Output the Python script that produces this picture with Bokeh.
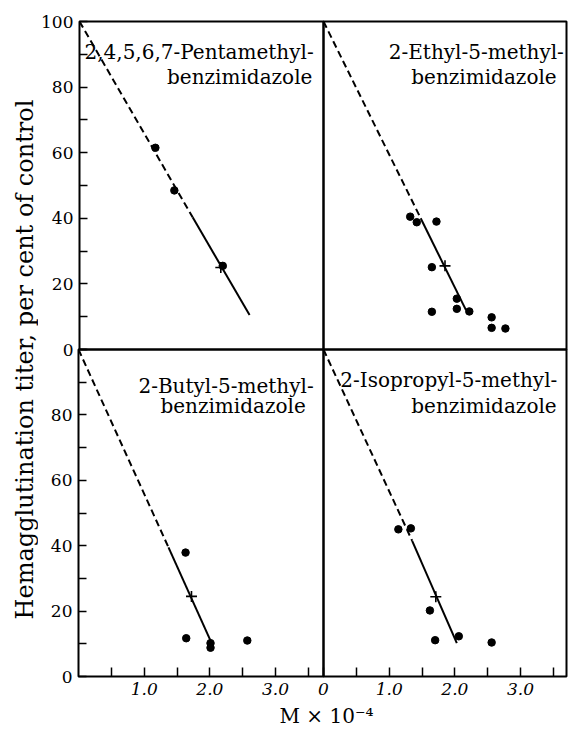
import math
from bokeh.plotting import figure
from bokeh.layouts import row, column
from bokeh.models import Range1d, FixedTicker
from bokeh.core.properties import value
from bokeh.embed import file_html
from bokeh.resources import INLINE

FONT = "DejaVu Serif"

# ---------------- data ----------------
# 2,4,5,6,7-Pentamethylbenzimidazole
pent_x = [1.16, 1.45, 2.19]
pent_y = [61.5, 48.5, 25.5]
pent_cross_x = [2.16]
pent_cross_y = [25.0]
pent_line_x = [0.0, 1.73, 2.60]
pent_line_y = [100.0, 40.3, 10.5]

# 2-Ethyl-5-methylbenzimidazole
ethyl_x = [1.32, 1.42, 1.72, 1.65, 1.65, 2.03, 2.03, 2.22, 2.56, 2.56, 2.77]
ethyl_y = [40.5, 38.8, 39.0, 25.1, 11.5, 15.5, 12.4, 11.6, 9.8, 6.6, 6.4]
ethyl_cross_x = [1.85]
ethyl_cross_y = [25.5]
ethyl_line_x = [0.0, 1.48, 2.17]
ethyl_line_y = [100.0, 40.0, 12.0]

# 2-Butyl-5-methylbenzimidazole
butyl_x = [1.63, 1.64, 2.01, 2.01, 2.57]
butyl_y = [37.9, 11.7, 10.2, 8.8, 11.0]
butyl_cross_x = [1.72]
butyl_cross_y = [24.5]
butyl_line_x = [0.0, 1.37, 2.02]
butyl_line_y = [100.0, 39.5, 10.5]

# 2-Isopropyl-5-methylbenzimidazole
iso_x = [1.14, 1.33, 1.62, 1.70, 2.06, 2.56]
iso_y = [45.0, 45.3, 20.2, 11.1, 12.3, 10.4]
iso_cross_x = [1.71]
iso_cross_y = [24.4]
iso_line_x = [0.0, 1.35, 2.03]
iso_line_y = [100.0, 41.5, 10.2]

titles = [
    ["2,4,5,6,7-Pentamethyl-", "benzimidazole"],
    ["2-Ethyl-5-methyl-", "benzimidazole"],
    ["2-Butyl-5-methyl-", "benzimidazole"],
    ["2-Isopropyl-5-methyl-", "benzimidazole"],
]

y_ticks = [0, 10, 20, 30, 40, 50, 60, 70, 80, 90, 100]
y_labels_top = ["0", "", "20", "", "40", "", "60", "", "80", "", "100"]
y_labels_bottom = ["0", "", "20", "", "40", "", "60", "", "80", "", ""]

x_ticks_left = [0.5, 1.0, 1.5, 2.0, 2.5, 3.0, 3.5]
x_labels_left = ["", "1.0", "", "2.0", "", "3.0", ""]
x_ticks_right = [0.0, 0.5, 1.0, 1.5, 2.0, 2.5, 3.0, 3.5]
x_labels_right = ["0", "", "1.0", "", "2.0", "", "3.0", ""]

y_title = "Hemagglutination titer, per cent of control"
x_title = "M \u00d7 10\u207b\u2074"


def panel(px, py, cx, cy, lx, ly, title, tpos, left, bottom, xmax,
          width, height, bl, br, bt, bb):
    p = figure(width=width, height=height, title=None,
               x_range=Range1d(0, xmax), y_range=Range1d(0, 100),
               output_backend="svg", toolbar_location=None,
               min_border_left=bl, min_border_right=br,
               min_border_top=bt, min_border_bottom=bb,
               border_fill_color=None, background_fill_color=None,
               outline_line_color="black", outline_line_width=2)
    p.grid.visible = False

    if left is None:
        p.yaxis.visible = False
    else:
        ax = p.yaxis[0]
        ax.ticker = FixedTicker(ticks=y_ticks)
        ax.major_label_overrides = {t: l for t, l in zip(y_ticks, left)}
        ax.major_tick_in = 8
        ax.major_tick_out = 0
        ax.minor_tick_line_color = None
        ax.major_tick_line_width = 1.5
        ax.axis_line_color = None
        ax.major_label_standoff = 6
        ax.major_label_text_font = FONT
        ax.major_label_text_font_size = "17px"
        ax.major_label_text_color = "black"

    if bottom is None:
        p.xaxis.visible = False
    else:
        ticks, labels = bottom
        ax = p.xaxis[0]
        ax.ticker = FixedTicker(ticks=ticks)
        ax.major_label_overrides = {t: l for t, l in zip(ticks, labels)}
        ax.major_tick_in = 9
        ax.major_tick_out = 0
        ax.minor_tick_line_color = None
        ax.major_tick_line_width = 1.5
        ax.axis_line_color = None
        ax.major_label_standoff = 6
        ax.major_label_text_font = FONT
        ax.major_label_text_font_style = "italic"
        ax.major_label_text_font_size = "17px"
        ax.major_label_text_color = "black"

    # regression line: dashed extrapolation, solid fitted part
    p.line(lx[:2], ly[:2], line_color="black", line_width=2, line_dash="7 4")
    p.line(lx[1:], ly[1:], line_color="black", line_width=2)
    # points
    p.scatter(px, py, size=7.5, marker="circle", fill_color="black", line_color="black")
    p.scatter(cx, cy, size=11, marker="cross", line_color="black", line_width=1.6)

    # panel title (two lines)
    (x1, y1), (x2, y2) = tpos
    p.text(x=[xmax - x1, xmax - x2], y=[y1, y2], text=title,
           text_align="right", text_baseline="middle",
           text_font=value(FONT), text_font_size="20px", text_color="black")
    return p


XL = 3.73
XR = 3.70

tl = panel(pent_x, pent_y, pent_cross_x, pent_cross_y, pent_line_x, pent_line_y,
           titles[0], ((0.15, 90.8), (0.17, 83.2)), y_labels_top, None,
           XL, 295, 359, 40, 10, 21, 10)
tr = panel(ethyl_x, ethyl_y, ethyl_cross_x, ethyl_cross_y, ethyl_line_x, ethyl_line_y,
           titles[1], ((0.04, 90.8), (0.15, 83.2)), None, None,
           XR, 255, 359, 10, 2, 21, 10)
bl = panel(butyl_x, butyl_y, butyl_cross_x, butyl_cross_y, butyl_line_x, butyl_line_y,
           titles[2], ((0.15, 88.7), (0.27, 82.6)), y_labels_bottom, (x_ticks_left, x_labels_left),
           XL, 295, 364, 40, 10, 10, 27)
br = panel(iso_x, iso_y, iso_cross_x, iso_cross_y, iso_line_x, iso_line_y,
           titles[3], ((0.14, 90.8), (0.15, 82.6)), None, (x_ticks_right, x_labels_right),
           XR, 255, 364, 10, 2, 10, 27)

tr.margin = (0, 0, 0, -20)
br.margin = (0, 0, 0, -20)

top_row = row(tl, tr)
bottom_row = row(bl, br)
bottom_row.margin = (-20, 0, 0, 0)
grid = column(top_row, bottom_row)

# y title
yt = figure(width=38, height=703, title=None, x_range=Range1d(0, 38), y_range=Range1d(0, 703),
            output_backend="svg", toolbar_location=None, min_border=0,
            outline_line_color=None, border_fill_color=None, background_fill_color=None)
yt.axis.visible = False
yt.grid.visible = False
yt.text(x=[24], y=[344], text=[y_title], angle=math.pi / 2,
        text_align="center", text_baseline="middle",
        text_font=value(FONT), text_font_size="24px", text_color="black")

# x title
xt = figure(width=568, height=25, title=None, x_range=Range1d(0, 568), y_range=Range1d(0, 25),
            output_backend="svg", toolbar_location=None, min_border=0,
            outline_line_color=None, border_fill_color=None, background_fill_color=None)
xt.axis.visible = False
xt.grid.visible = False
xt.text(x=[326], y=[13], text=[x_title], text_align="center", text_baseline="middle",
        text_font=value(FONT), text_font_size="20px", text_color="black")

layout = column(row(yt, grid), xt)

open("out.html", "w").write(file_html(layout, INLINE))
